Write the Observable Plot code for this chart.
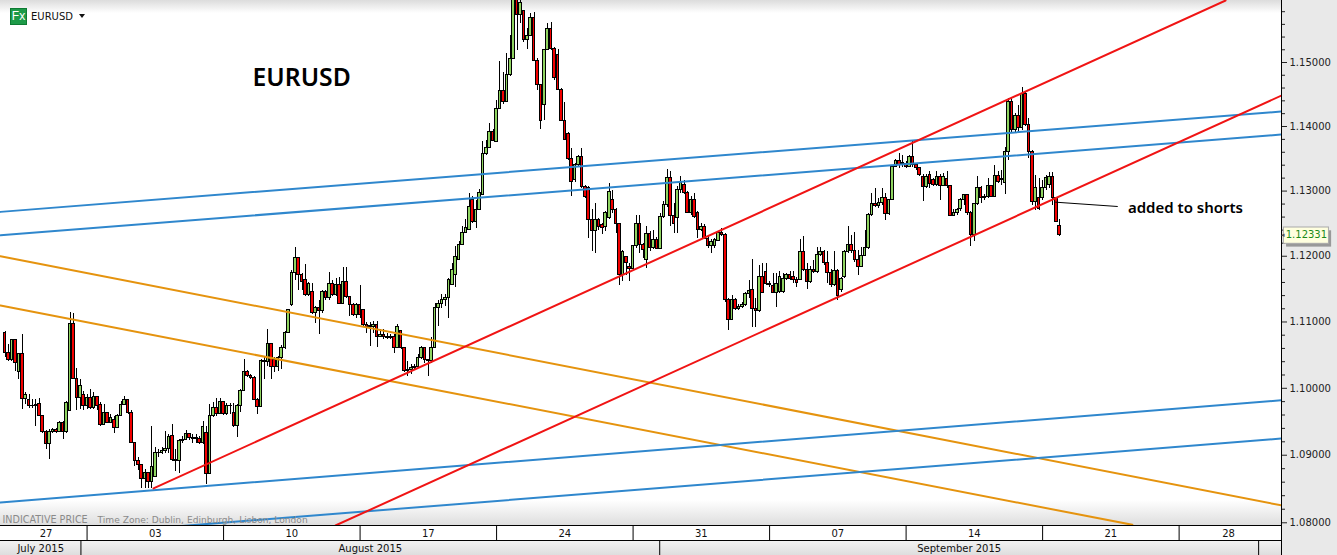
<!DOCTYPE html>
<html><head><meta charset="utf-8">
<script src="https://cdn.jsdelivr.net/npm/d3@7"></script>
<script src="https://cdn.jsdelivr.net/npm/@observablehq/plot@0.6"></script>
<style>
html,body{margin:0;padding:0;background:#fff;overflow:hidden}
#wrap{position:relative;width:1337px;height:555px;overflow:hidden}
#wrap svg{position:absolute;left:0;top:0;background:transparent}
.bg{position:absolute}
#icon{position:absolute;left:10px;top:8px;width:15px;height:15px;background:#1d9a48;border:1px solid #0d7a32;color:#fff;font:12px "Liberation Sans";line-height:15px;text-align:center}
#sym{position:absolute;left:31px;top:10px;font:11px "DejaVu Sans";color:#111;line-height:13px;transform:scaleX(.91);transform-origin:left}
#tri{position:absolute;left:79px;top:14px;width:0;height:0;border-left:3.5px solid transparent;border-right:3.5px solid transparent;border-top:4px solid #111}
</style></head><body>
<div id="wrap">
<div class="bg" style="left:0;top:0;width:1337px;height:13px;background:linear-gradient(#dcdcdc,#fff)"></div>
<div class="bg" style="left:0;top:500px;width:1281px;height:25px;background:linear-gradient(#fff,#dedede)"></div>
<div class="bg" style="left:0;top:541px;width:1281px;height:14px;background:linear-gradient(#f2f2f2,#dedede)"></div>
<div class="bg" style="left:1281px;top:0;width:56px;height:555px;background:#e9e9e9"></div>
<div id="icon">Fx</div><div id="sym">EURUSD</div><div id="tri"></div>
</div>
<script>
const open=[
1.1083,1.1053,1.1043,1.1072,1.1025,1.1052,1.0984,1.0983,1.0973,1.0974,
1.0977,1.0959,1.0935,1.0917,1.0935,1.0938,1.0935,1.0948,1.0935,1.0966,
1.1097,1.1014,1.0986,1.0990,1.0973,1.0986,1.0971,1.0987,1.0975,1.0945,
1.0963,1.0948,1.0953,1.0940,1.0958,1.0975,1.0982,1.0963,1.0918,1.0891,
1.0886,1.0865,1.0873,1.0861,1.0868,1.0904,1.0903,1.0906,1.0909,1.0928,
1.0893,1.0892,1.0921,1.0923,1.0931,1.0926,1.0924,1.0924,1.0918,1.0933,
1.0872,1.0958,1.0971,1.0962,1.0979,1.0961,1.0973,1.0963,1.0943,1.0973,
1.0996,1.1025,1.1019,1.1016,1.0983,1.0972,1.1041,1.1039,1.1067,1.1043,
1.1032,1.1046,1.1061,1.1084,1.1126,1.1175,1.1198,1.1171,1.1163,1.1141,
1.1146,1.1113,1.1121,1.1116,1.1146,1.1136,1.1158,1.1141,1.1156,1.1128,
1.1161,1.1138,1.1126,1.1111,1.1126,1.1118,1.1096,1.1093,1.1093,1.1096,
1.1078,1.1081,1.1078,1.1076,1.1077,1.1061,1.1086,1.1061,1.1026,1.1027,
1.1031,1.1032,1.1046,1.1060,1.1043,1.1041,1.1061,1.1121,1.1128,1.1133,
1.1136,1.1156,1.1171,1.1194,1.1217,1.1235,1.1240,1.1286,1.1253,1.1271,
1.1294,1.1357,1.1366,1.1391,1.1376,1.1428,1.1456,1.1438,1.1480,1.1506,
1.1613,1.1574,1.1581,1.1536,1.1542,1.1570,1.1503,1.1464,1.1433,1.1519,
1.1553,1.1521,1.1511,1.1457,1.1409,1.1389,1.1350,1.1317,1.1340,1.1353,
1.1307,1.1304,1.1256,1.1238,1.1256,1.1248,1.1245,1.1258,1.1286,1.1271,
1.1249,1.1171,1.1199,1.1184,1.1180,1.1215,1.1249,1.1217,1.1194,1.1234,
1.1212,1.1225,1.1211,1.1260,1.1279,1.1320,1.1261,1.1258,1.1302,1.1309,
1.1297,1.1266,1.1286,1.1266,1.1240,1.1245,1.1227,1.1215,1.1215,1.1224,
1.1235,1.1233,1.1133,1.1103,1.1133,1.1120,1.1122,1.1125,1.1143,1.1148,
1.1120,1.1117,1.1168,1.1176,1.1158,1.1155,1.1144,1.1145,1.1145,1.1166,
1.1171,1.1168,1.1164,1.1164,1.1206,1.1179,1.1161,1.1179,1.1176,1.1202,
1.1207,1.1189,1.1174,1.1156,1.1178,1.1148,1.1168,1.1207,1.1217,1.1208,
1.1194,1.1184,1.1200,1.1212,1.1263,1.1280,1.1277,1.1282,1.1289,1.1265,
1.1287,1.1337,1.1347,1.1342,1.1342,1.1337,1.1353,1.1340,1.1335,1.1322,
1.1307,1.1325,1.1317,1.1309,1.1322,1.1308,1.1319,1.1308,1.1261,1.1266,
1.1272,1.1286,1.1294,1.1266,1.1232,1.1280,1.1304,1.1289,1.1291,1.1308,
1.1291,1.1323,1.1317,1.1312,1.1360,1.1438,1.1394,1.1417,1.1397,1.1451,
1.1403,1.1360,1.1283,1.1289,1.1290,1.1304,1.1309,1.1321,1.1289,1.1247];
const high=[
1.1086,1.1066,1.1073,1.1074,1.1053,1.1081,1.0993,1.0990,1.0983,1.0983,
1.0985,1.0959,1.0937,1.0938,1.0940,1.0940,1.0950,1.0950,1.0980,1.1114,
1.1113,1.1030,1.1013,1.0995,1.0990,1.0998,1.0993,1.0988,1.0978,1.0975,
1.0964,1.0961,1.0958,1.0961,1.0980,1.0988,1.0983,1.0966,1.0918,1.0896,
1.0886,1.0879,1.0874,1.0943,1.0911,1.0908,1.0911,1.0935,1.0931,1.0946,
1.0908,1.0923,1.0928,1.0937,1.0931,1.0931,1.0931,1.0928,1.0950,1.0943,
1.0975,1.0978,1.0985,1.0985,1.0980,1.0977,1.0977,1.0977,1.0975,1.0998,
1.1043,1.1027,1.1021,1.1018,1.0985,1.1043,1.1048,1.1089,1.1068,1.1046,
1.1048,1.1064,1.1086,1.1119,1.1178,1.1214,1.1198,1.1173,1.1188,1.1160,
1.1158,1.1123,1.1133,1.1148,1.1148,1.1175,1.1163,1.1166,1.1168,1.1183,
1.1183,1.1138,1.1128,1.1128,1.1156,1.1118,1.1099,1.1099,1.1101,1.1101,
1.1088,1.1088,1.1082,1.1081,1.1081,1.1096,1.1086,1.1061,1.1041,1.1036,
1.1036,1.1051,1.1063,1.1061,1.1043,1.1076,1.1128,1.1133,1.1141,1.1141,
1.1166,1.1189,1.1215,1.1222,1.1245,1.1256,1.1297,1.1291,1.1286,1.1302,
1.1376,1.1378,1.1404,1.1396,1.1441,1.1501,1.1485,1.1514,1.1542,1.1628,
1.1628,1.1628,1.1582,1.1553,1.1577,1.1579,1.1506,1.1464,1.1521,1.1561,
1.1563,1.1524,1.1521,1.1459,1.1438,1.1391,1.1366,1.1343,1.1355,1.1366,
1.1309,1.1307,1.1271,1.1281,1.1258,1.1250,1.1268,1.1312,1.1301,1.1273,
1.1250,1.1209,1.1199,1.1189,1.1217,1.1263,1.1263,1.1220,1.1245,1.1238,
1.1240,1.1229,1.1266,1.1284,1.1333,1.1330,1.1281,1.1307,1.1322,1.1317,
1.1299,1.1291,1.1297,1.1268,1.1250,1.1248,1.1230,1.1225,1.1227,1.1238,
1.1243,1.1235,1.1135,1.1140,1.1135,1.1127,1.1130,1.1145,1.1163,1.1195,
1.1135,1.1186,1.1189,1.1189,1.1161,1.1173,1.1173,1.1176,1.1173,1.1173,
1.1176,1.1176,1.1168,1.1225,1.1230,1.1189,1.1184,1.1194,1.1214,1.1214,
1.1209,1.1207,1.1179,1.1207,1.1179,1.1168,1.1209,1.1245,1.1232,1.1237,
1.1209,1.1214,1.1240,1.1266,1.1296,1.1304,1.1289,1.1304,1.1296,1.1286,
1.1340,1.1349,1.1358,1.1355,1.1345,1.1355,1.1378,1.1342,1.1337,1.1325,
1.1325,1.1330,1.1319,1.1330,1.1325,1.1327,1.1330,1.1309,1.1271,1.1273,
1.1289,1.1295,1.1295,1.1268,1.1281,1.1322,1.1307,1.1294,1.1319,1.1309,
1.1340,1.1330,1.1332,1.1368,1.1443,1.1443,1.1421,1.1432,1.1461,1.1455,
1.1412,1.1363,1.1324,1.1320,1.1317,1.1324,1.1329,1.1329,1.1290,1.1257];
const low=[
1.1046,1.1041,1.1041,1.1025,1.1013,1.0968,1.0975,1.0970,1.0970,1.0943,
1.0958,1.0933,1.0908,1.0893,1.0933,1.0933,1.0935,1.0923,1.0933,1.0966,
1.1014,1.0966,1.0968,1.0966,1.0968,1.0968,1.0968,1.0966,1.0943,1.0945,
1.0948,1.0948,1.0933,1.0940,1.0958,1.0975,1.0961,1.0918,1.0883,1.0878,
1.0851,1.0851,1.0851,1.0851,1.0868,1.0896,1.0901,1.0903,1.0903,1.0891,
1.0876,1.0873,1.0918,1.0923,1.0922,1.0918,1.0917,1.0916,1.0916,1.0857,
1.0872,1.0957,1.0958,1.0961,1.0959,1.0959,1.0961,1.0942,1.0927,1.0963,
1.0996,1.1016,1.1013,1.0981,1.0961,1.0972,1.1013,1.1033,1.1013,1.1024,
1.1025,1.1028,1.1059,1.1083,1.1124,1.1163,1.1148,1.1148,1.1138,1.1138,
1.1111,1.1098,1.1081,1.1113,1.1133,1.1133,1.1138,1.1138,1.1126,1.1128,
1.1136,1.1108,1.1108,1.1106,1.1106,1.1093,1.1083,1.1063,1.1083,1.1061,
1.1076,1.1074,1.1074,1.1074,1.1053,1.1061,1.1058,1.1023,1.1018,1.1021,
1.1028,1.1031,1.1043,1.1038,1.1018,1.1038,1.1061,1.1093,1.1121,1.1123,
1.1106,1.1156,1.1153,1.1194,1.1217,1.1235,1.1240,1.1250,1.1243,1.1271,
1.1294,1.1355,1.1366,1.1376,1.1376,1.1428,1.1435,1.1438,1.1478,1.1519,
1.1519,1.1561,1.1532,1.1521,1.1541,1.1503,1.1456,1.1396,1.1409,1.1519,
1.1519,1.1472,1.1456,1.1408,1.1378,1.1348,1.1291,1.1314,1.1338,1.1304,
1.1289,1.1227,1.1207,1.1204,1.1240,1.1233,1.1238,1.1256,1.1266,1.1235,
1.1156,1.1161,1.1171,1.1161,1.1179,1.1212,1.1204,1.1197,1.1181,1.1207,
1.1210,1.1210,1.1210,1.1258,1.1274,1.1245,1.1235,1.1235,1.1297,1.1294,
1.1266,1.1263,1.1258,1.1227,1.1238,1.1225,1.1212,1.1204,1.1212,1.1222,
1.1230,1.1130,1.1087,1.1102,1.1117,1.1118,1.1120,1.1123,1.1135,1.1092,
1.1092,1.1115,1.1143,1.1156,1.1153,1.1143,1.1122,1.1143,1.1143,1.1163,
1.1163,1.1158,1.1153,1.1163,1.1176,1.1150,1.1158,1.1174,1.1174,1.1199,
1.1186,1.1158,1.1153,1.1154,1.1133,1.1145,1.1166,1.1204,1.1204,1.1191,
1.1171,1.1184,1.1199,1.1210,1.1261,1.1275,1.1273,1.1278,1.1255,1.1263,
1.1286,1.1336,1.1335,1.1337,1.1335,1.1336,1.1337,1.1332,1.1322,1.1284,
1.1304,1.1304,1.1307,1.1307,1.1286,1.1307,1.1304,1.1261,1.1261,1.1263,
1.1268,1.1278,1.1263,1.1215,1.1222,1.1278,1.1281,1.1286,1.1289,1.1290,
1.1290,1.1312,1.1309,1.1294,1.1347,1.1391,1.1391,1.1391,1.1394,1.1400,
1.1350,1.1278,1.1270,1.1270,1.1286,1.1301,1.1304,1.1278,1.1252,1.1230];
const close=[
1.1053,1.1043,1.1072,1.1038,1.1052,1.0984,1.0990,1.0973,1.0974,1.0975,
1.0959,1.0935,1.0917,1.0935,1.0938,1.0935,1.0948,1.0935,1.0978,1.1097,
1.1014,1.0986,1.1003,1.0973,1.0986,1.0971,1.0987,1.0974,1.0945,1.0963,
1.0948,1.0956,1.0940,1.0958,1.0975,1.0982,1.0963,1.0918,1.0891,1.0886,
1.0865,1.0873,1.0861,1.0882,1.0904,1.0903,1.0906,1.0909,1.0927,1.0893,
1.0892,1.0921,1.0923,1.0931,1.0926,1.0924,1.0925,1.0918,1.0942,1.0872,
1.0958,1.0971,1.0962,1.0979,1.0961,1.0973,1.0974,1.0943,1.0973,1.0996,
1.1025,1.1019,1.1016,1.0983,1.0972,1.1041,1.1039,1.1067,1.1032,1.1032,
1.1046,1.1061,1.1084,1.1118,1.1175,1.1198,1.1171,1.1161,1.1141,1.1158,
1.1113,1.1121,1.1116,1.1146,1.1136,1.1158,1.1141,1.1156,1.1128,1.1161,
1.1138,1.1126,1.1111,1.1126,1.1111,1.1096,1.1093,1.1094,1.1096,1.1078,
1.1081,1.1078,1.1076,1.1077,1.1061,1.1093,1.1061,1.1026,1.1027,1.1031,
1.1032,1.1046,1.1060,1.1043,1.1041,1.1061,1.1121,1.1128,1.1133,1.1136,
1.1163,1.1179,1.1199,1.1217,1.1235,1.1243,1.1276,1.1253,1.1271,1.1297,
1.1357,1.1366,1.1391,1.1377,1.1428,1.1456,1.1438,1.1480,1.1506,1.1613,
1.1574,1.1594,1.1536,1.1542,1.1570,1.1503,1.1464,1.1409,1.1519,1.1553,
1.1521,1.1475,1.1457,1.1409,1.1379,1.1350,1.1314,1.1340,1.1353,1.1307,
1.1291,1.1256,1.1238,1.1256,1.1245,1.1244,1.1266,1.1299,1.1271,1.1249,
1.1171,1.1207,1.1189,1.1180,1.1215,1.1249,1.1217,1.1210,1.1234,1.1212,
1.1225,1.1211,1.1260,1.1279,1.1320,1.1261,1.1250,1.1302,1.1312,1.1297,
1.1266,1.1287,1.1260,1.1240,1.1245,1.1227,1.1215,1.1222,1.1225,1.1235,
1.1233,1.1133,1.1103,1.1133,1.1120,1.1122,1.1125,1.1143,1.1147,1.1120,
1.1117,1.1168,1.1144,1.1158,1.1156,1.1144,1.1158,1.1168,1.1166,1.1171,
1.1166,1.1163,1.1159,1.1206,1.1179,1.1161,1.1179,1.1176,1.1202,1.1207,
1.1189,1.1174,1.1156,1.1178,1.1140,1.1166,1.1207,1.1217,1.1208,1.1194,
1.1184,1.1200,1.1212,1.1263,1.1280,1.1277,1.1282,1.1289,1.1265,1.1286,
1.1337,1.1347,1.1340,1.1343,1.1337,1.1353,1.1340,1.1335,1.1325,1.1307,
1.1322,1.1311,1.1309,1.1322,1.1308,1.1321,1.1308,1.1261,1.1266,1.1271,
1.1286,1.1294,1.1266,1.1232,1.1280,1.1304,1.1289,1.1291,1.1308,1.1291,
1.1323,1.1314,1.1319,1.1360,1.1438,1.1394,1.1417,1.1397,1.1451,1.1403,
1.1360,1.1283,1.1304,1.1273,1.1304,1.1320,1.1321,1.1289,1.1252,1.12331];

const priceMajor=[1.08,1.09,1.10,1.11,1.12,1.13,1.14,1.15];
const priceMinor=[1.082,1.084,1.086,1.088,1.092,1.094,1.096,1.098,1.102,1.104,1.106,1.108,1.112,1.114,1.116,1.118,1.122,1.124,1.126,1.128,1.132,1.134,1.136,1.138,1.142,1.144,1.146,1.148,1.152,1.154,1.156,1.158];
const weekLabels=["27","03","10","17","24","31","07","14","21","28"];
const weekStarts=[0,24,64,104,144,184,224,264,304,344,373];
const monthLabels=["July 2015","August 2015","September 2015"];
const monthStarts=[-1.37,22.2,191.8,367.3];
const xRight=374, yBottom=1.0796, yTop=1.15977;

const blueA=[[-1.37,1.1268],[374,1.14234]];
const blueB=[[-1.37,1.1232],[374,1.13876]];
const blueC=[[-1.37,1.0830],[374,1.09821]];
const blueD=[[-1.37,1.0774],[374,1.09249]];
const orangeA=[[-1.37,1.1200],[374,1.08256]];
const orangeB=[[-1.37,1.1125],[330.3,1.0797]];
const redA=[[43.47,1.08508],[357.6,1.15977]];
const redB=[[96.8,1.0796],[374,1.14483]];
const note=[[307.8,1.12829],[325.9,1.12763]];
const lastPrice=1.12331;

const candles=open.map((o,i)=>({i,o,h:high[i],l:low[i],c:close[i]}));
const line=(a,stroke)=>Plot.line(a,{x:d=>d[0],y:d=>d[1],stroke,strokeWidth:2,clip:true});
const weekCells=weekLabels.map((t,i)=>({t,x:(weekStarts[i]+weekStarts[i+1])/2}));
const monthCells=monthLabels.map((t,i)=>({t,x:(monthStarts[i]+monthStarts[i+1])/2}));

const chart=Plot.plot({
  width:1337,height:555,marginTop:0,marginLeft:0,marginRight:56,marginBottom:30,
  style:{fontFamily:"DejaVu Sans",fontSize:"10px",background:"transparent",overflow:"visible"},
  x:{axis:null,domain:[-1.366,374]},
  y:{axis:null,type:"log",domain:[yBottom,yTop]},
  marks:[
    Plot.ruleX(candles,{x:"i",y1:"l",y2:"h",stroke:"#000",strokeWidth:1,clip:true,shapeRendering:"crispEdges"}),
    Plot.rect(candles,{x1:d=>d.i-.38,x2:d=>d.i+.38,y1:"o",y2:"c",clip:true,shapeRendering:"crispEdges",
      fill:d=>d.c>=d.o?"#8fd461":"#f20000",stroke:"#000",strokeWidth:1}),
    line(orangeB,"#e5930e"),line(orangeA,"#e5930e"),
    line(blueA,"#2f87cd"),line(blueB,"#2f87cd"),line(blueC,"#2f87cd"),line(blueD,"#2f87cd"),
    line(redA,"#f01414"),line(redB,"#f01414"),
    Plot.line(note,{x:d=>d[0],y:d=>d[1],stroke:"#000",strokeWidth:1}),
    Plot.text(["EURUSD"],{x:72.5,y:1.1475,textAnchor:"start",fontFamily:"Noto Sans",fontWeight:600,fontSize:24.7,fill:"#000"}),
    Plot.text(["added to shorts"],{x:329,y:1.1273,textAnchor:"start",fontFamily:"Noto Sans",fontWeight:600,fontSize:15,fill:"#000"}),
    Plot.text(["INDICATIVE PRICE"],{frameAnchor:"bottom-left",dx:2,dy:-3,fill:"#8a8a8a",fontSize:9.6}),
    Plot.text(["Time Zone: Dublin, Edinburgh, Lisbon, London"],{frameAnchor:"bottom-left",dx:97,dy:-3,fill:"#8a8a8a",fontSize:9.1}),
    Plot.axisY(priceMinor,{anchor:"right",tickSize:3,tickFormat:()=>"",label:null,stroke:"#222"}),
    Plot.axisY(priceMajor,{anchor:"right",tickSize:5,tickPadding:3,tickFormat:".5f",label:null,fontSize:10,color:"#222",stroke:"#222"}),
    Plot.ruleY([yBottom],{stroke:"#000"}),
    Plot.ruleY([yBottom],{stroke:"#000",dy:15}),
    Plot.ruleX(weekStarts.slice(1,-1),{stroke:"#000",insetTop:525,insetBottom:-15}),
    Plot.ruleX(monthStarts.slice(1),{stroke:"#000",insetTop:540,insetBottom:-30}),
    Plot.ruleX([xRight],{stroke:"#000",insetBottom:-30}),
    Plot.text(weekCells,{x:"x",text:"t",frameAnchor:"bottom",dy:8,lineAnchor:"middle",fill:"#111",fontSize:10}),
    Plot.text(monthCells,{x:"x",text:"t",frameAnchor:"bottom",dy:23,lineAnchor:"middle",fill:"#111",fontSize:10}),
    Plot.rect([lastPrice],{x1:374.9,x2:388.1,y1:1.1217,y2:1.1242,fill:"#999",dx:2,dy:2}),
    Plot.rect([lastPrice],{x1:374.7,x2:387.9,y1:1.1219,y2:1.1244,fill:"#ffffdf",stroke:"#aaa"}),
    Plot.text([lastPrice],{x:381.3,y:d=>d,text:d=>d.toFixed(5),fill:"#1a8a1a",fontSize:10}),
    Plot.text(["◂"],{x:374.4,y:lastPrice,fill:"#555",fontSize:7})
  ]
});
document.getElementById("wrap").appendChild(chart);
</script>
</body></html>
